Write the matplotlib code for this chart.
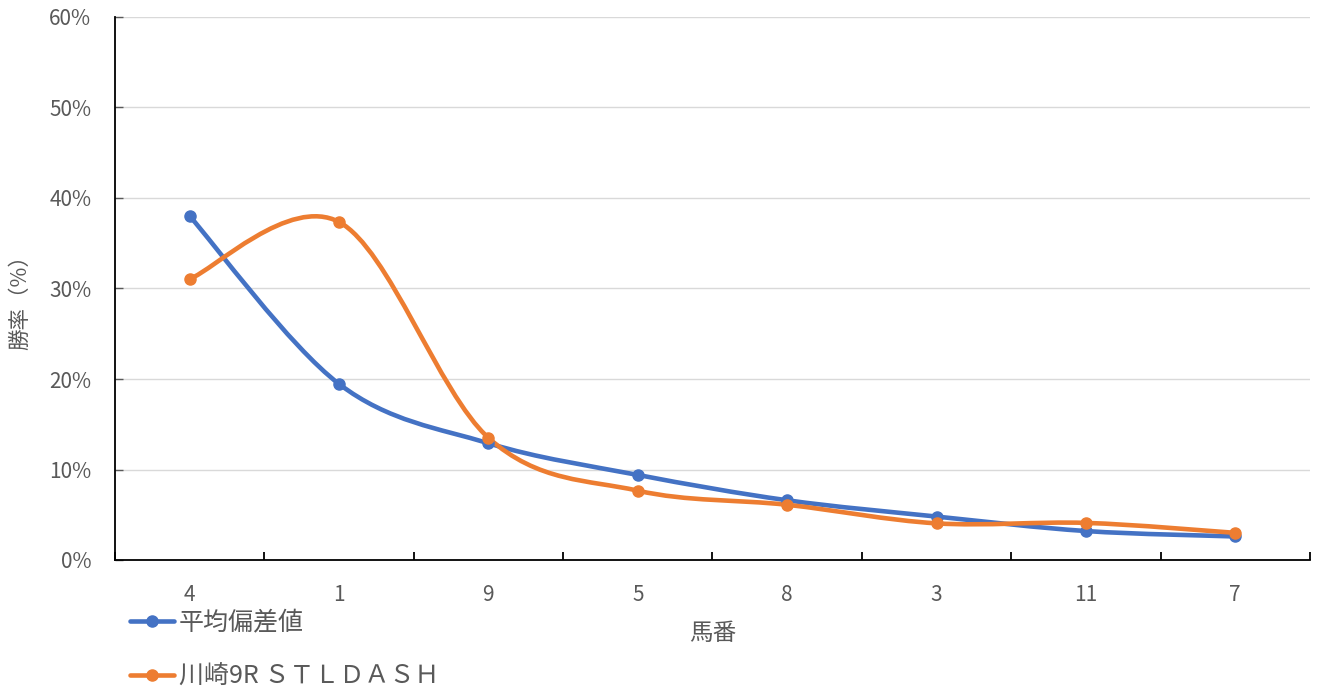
import numpy as np
import matplotlib
matplotlib.use("Agg")
import matplotlib.pyplot as plt
from matplotlib.path import Path
from matplotlib.patches import PathPatch
from matplotlib.lines import Line2D
from matplotlib.ticker import FuncFormatter, MultipleLocator, FixedLocator

plt.rcParams['font.family'] = ['Noto Sans CJK JP', 'DejaVu Sans']

categories = ["4", "1", "9", "5", "8", "3", "11", "7"]
avg_dev = [0.380, 0.1945, 0.129, 0.094, 0.066, 0.048, 0.032, 0.026]
stldash = [0.3105, 0.3735, 0.135, 0.0766, 0.061, 0.0405, 0.041, 0.030]
series_names = ["平均偏差値", "川崎9R ＳＴＬＤＡＳＨ"]
colors = ["#4472C4", "#ED7D31"]

TEXT = "#595959"

fig = plt.figure(figsize=(13.22, 6.93), dpi=100)
ax = fig.add_axes([115/1322, (693-560)/693, (1310-115)/1322, (560-17)/693])


def smooth_path(xs, ys):
    pts = np.column_stack([xs, ys]).astype(float)
    n = len(pts)
    verts = [pts[0]]
    codes = [Path.MOVETO]
    for i in range(n - 1):
        p0 = pts[i - 1] if i > 0 else pts[i]
        p1 = pts[i]
        p2 = pts[i + 1]
        p3 = pts[i + 2] if i + 2 < n else pts[i + 1]
        c1 = p1 + (p2 - p0) / 6.0
        c2 = p2 - (p3 - p1) / 6.0
        verts += [c1, c2, p2]
        codes += [Path.CURVE4] * 3
    return Path(verts, codes)


x = np.arange(len(categories))
handles = []
for vals, col, name in zip([avg_dev, stldash], colors, series_names):
    patch = PathPatch(smooth_path(x, vals), facecolor="none", edgecolor=col,
                      lw=3.3, capstyle="round", joinstyle="round", zorder=3)
    ax.add_patch(patch)
    ax.plot(x, vals, linestyle="none", marker="o", markersize=8,
            color=col, zorder=4)
    handles.append(Line2D([], [], color=col, lw=3.3, marker="o",
                          markersize=8, solid_capstyle="round"))

ax.set_xlim(-0.5, len(categories) - 0.5)
ax.set_ylim(0, 0.60)
ax.yaxis.set_major_locator(MultipleLocator(0.10))
ax.yaxis.set_major_formatter(FuncFormatter(lambda v, p: f"{v*100:.0f}%"))
ax.grid(axis="y", color="#D9D9D9", lw=1.0, zorder=0)
ax.set_axisbelow(True)

ax.set_xticks(x)
ax.set_xticklabels(categories)
ax.xaxis.set_minor_locator(FixedLocator(np.arange(-0.5, len(categories), 1.0)))
ax.tick_params(axis="x", which="major", length=0, pad=17, labelsize=15,
               labelcolor=TEXT)
ax.tick_params(axis="x", which="minor", direction="in", length=6, width=1.3,
               color="black")
ax.tick_params(axis="y", direction="in", length=6, width=1.0, color="#595959",
               pad=17, labelsize=15, labelcolor=TEXT)

for s in ["top", "right"]:
    ax.spines[s].set_visible(False)
for s in ["left", "bottom"]:
    ax.spines[s].set_color("black")
    ax.spines[s].set_linewidth(1.3)

ax.set_xlabel("馬番", fontsize=17, color=TEXT)
ax.xaxis.set_label_coords(0.5, (560-622)/543)
ax.set_ylabel("勝率（%）", fontsize=15.5, color=TEXT)
ax.yaxis.set_label_coords((31-115)/1195, 0.485)

leg = fig.legend(handles, series_names, loc="upper left",
                 bbox_to_anchor=(130/1322, 1 - 610/693), frameon=False,
                 fontsize=18, labelcolor=TEXT, handlelength=1.75,
                 handletextpad=0.2, labelspacing=1.12, borderaxespad=0,
                 borderpad=0)

fig.savefig("out.png", dpi=100)
